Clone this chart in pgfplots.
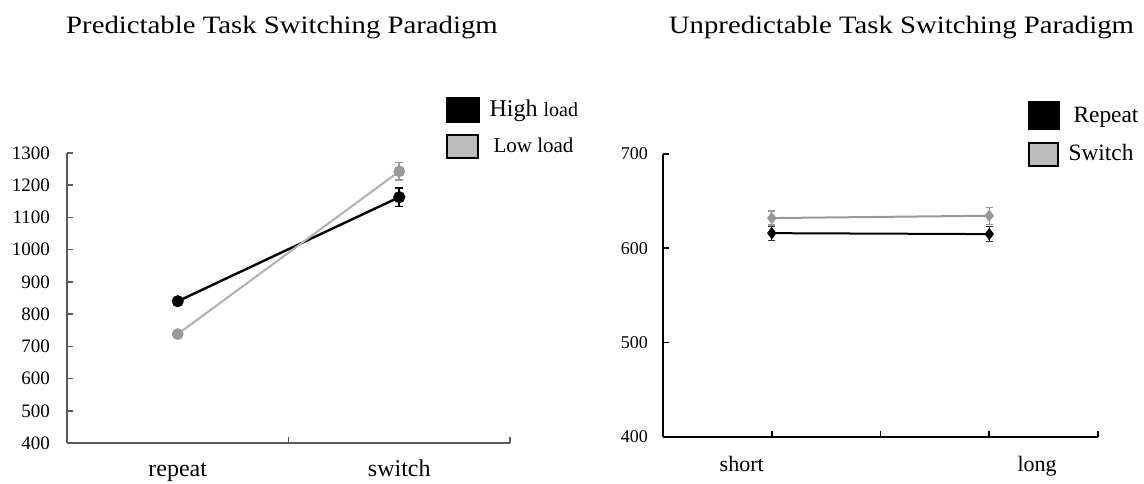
\documentclass[border=0pt]{standalone}
\usepackage{fontspec}
\setmainfont{Liberation Serif}
\newfontfamily\titlefont[FakeStretch=1.15]{Liberation Serif}
\usepackage{pgfplots}
\pgfplotsset{compat=1.18}
\definecolor{lowgray}{HTML}{B0B0B0}
\definecolor{markgray}{HTML}{999999}
\definecolor{axgray}{HTML}{5A5A5A}
\begin{document}
\begin{tikzpicture}
\useasboundingbox (0,0) rectangle (572pt,241.5pt);
\node[font=\titlefont\fontsize{12.5}{14}\selectfont] at (141pt,227.5pt) {Predictable Task Switching Paradigm};
\node[font=\titlefont\fontsize{12.5}{14}\selectfont] at (450.75pt,227.5pt) {Unpredictable Task Switching Paradigm};
% ---------------- left panel
\begin{axis}[
  at={(33.5pt,20pt)}, anchor=south west, scale only axis,
  width=221.5pt, height=145pt,
  xmin=0, xmax=2, ymin=400, ymax=1300,
  axis x line*=bottom, axis y line*=left,
  axis line style={axgray, line width=0.8pt, -},
  xtick={1,2}, xticklabels={}, ytick={400,500,...,1300},
  tick align=inside, major tick length=3pt,
  tick style={axgray, line width=0.8pt},
  extra x ticks={0.5,1.5}, extra x tick labels={repeat,switch},
  extra x tick style={major tick length=0pt, tick label style={font=\fontsize{12}{14}\selectfont, text height=9pt, text depth=3pt, yshift=-4pt}},
  yticklabel style={font=\fontsize{9.5}{11}\selectfont, xshift=-5pt},
  /pgf/number format/assume math mode=true,
  /pgf/number format/set thousands separator={},
  clip=false,
  legend cell align=left,
  legend style={at={(axis description cs:0.855,1.197)}, anchor=north west, draw=none, fill=none, inner sep=0pt, row sep=5pt},
]
\addplot[black, line width=1.2pt, mark=*, mark size=2.4pt,
  legend image code/.code={\fill[black] (0pt,-5.75pt) rectangle (15.5pt,5.75pt);},
  error bars/.cd, y dir=both, y explicit,
  error bar style={line width=0.8pt, black},
  error mark options={rotate=90, mark size=2pt, line width=0.8pt, black}]
  coordinates {(0.5,840) +- (0,10) (1.5,1163) +- (0,29)};
\addlegendentry{\hspace*{3pt}\fontsize{12}{14}\selectfont High {\fontsize{10}{12}\selectfont load}}
\addplot[lowgray, line width=1.0pt, mark=*, mark size=2.4pt, mark options={fill=markgray, draw=markgray},
  legend image code/.code={\draw[black, line width=1pt, fill=lowgray!85] (0pt,-5.75pt) rectangle (15.5pt,5.75pt);},
  error bars/.cd, y dir=both, y explicit,
  error bar style={line width=0.8pt, markgray},
  error mark options={rotate=90, mark size=2pt, line width=0.8pt, markgray}]
  coordinates {(0.5,738) +- (0,10) (1.5,1243) +- (0,27)};
\addlegendentry{\hspace*{5pt}\fontsize{10.5}{12}\selectfont Low load}
\end{axis}
% ---------------- right panel
\begin{axis}[
  at={(331.5pt,23.15pt)}, anchor=south west, scale only axis,
  width=217.5pt, height=141.35pt,
  xmin=0, xmax=4, ymin=400, ymax=700,
  axis x line*=bottom, axis y line*=left,
  axis line style={black, line width=0.9pt, -},
  xtick={1,2,3,4}, xticklabels={}, ytick={400,500,600,700},
  tick align=inside, major tick length=3pt,
  tick style={black, line width=0.9pt},
  extra x ticks={0.724,3.44}, extra x tick labels={short,long},
  extra x tick style={major tick length=0pt, tick label style={font=\fontsize{11}{13}\selectfont, text height=8pt, text depth=2.5pt, yshift=-6pt}},
  yticklabel style={font=\fontsize{9}{10}\selectfont, xshift=-4pt},
  /pgf/number format/assume math mode=true,
  clip=false,
  legend cell align=left,
  legend style={at={(axis description cs:0.837,1.1875)}, anchor=north west, draw=none, fill=none, inner sep=0pt, row sep=5pt},
]
\addplot[black, line width=1.0pt, mark=diamond*, mark size=2.3pt,
  legend image code/.code={\fill[black] (0pt,-6.75pt) rectangle (15pt,6.75pt);},
  error bars/.cd, y dir=both, y explicit,
  error bar style={line width=0.7pt, black!80},
  error mark options={rotate=90, mark size=1.8pt, line width=0.7pt, black!80}]
  coordinates {(1,616) +- (0,7.5) (3,615) +- (0,8)};
\addlegendentry{\hspace*{5pt}\fontsize{11.7}{14}\selectfont Repeat}
\addplot[markgray, line width=1.0pt, mark=diamond*, mark size=2.3pt,
  legend image code/.code={\draw[black, line width=1pt, fill=lowgray!85] (0pt,-5.75pt) rectangle (14.5pt,5.75pt);},
  error bars/.cd, y dir=both, y explicit,
  error bar style={line width=0.7pt, markgray},
  error mark options={rotate=90, mark size=1.8pt, line width=0.7pt, markgray}]
  coordinates {(1,632) +- (0,7.5) (3,634.5) +- (0,9)};
\addlegendentry{\hspace*{2.5pt}\fontsize{11.7}{14}\selectfont Switch}
\end{axis}
\end{tikzpicture}
\end{document}
